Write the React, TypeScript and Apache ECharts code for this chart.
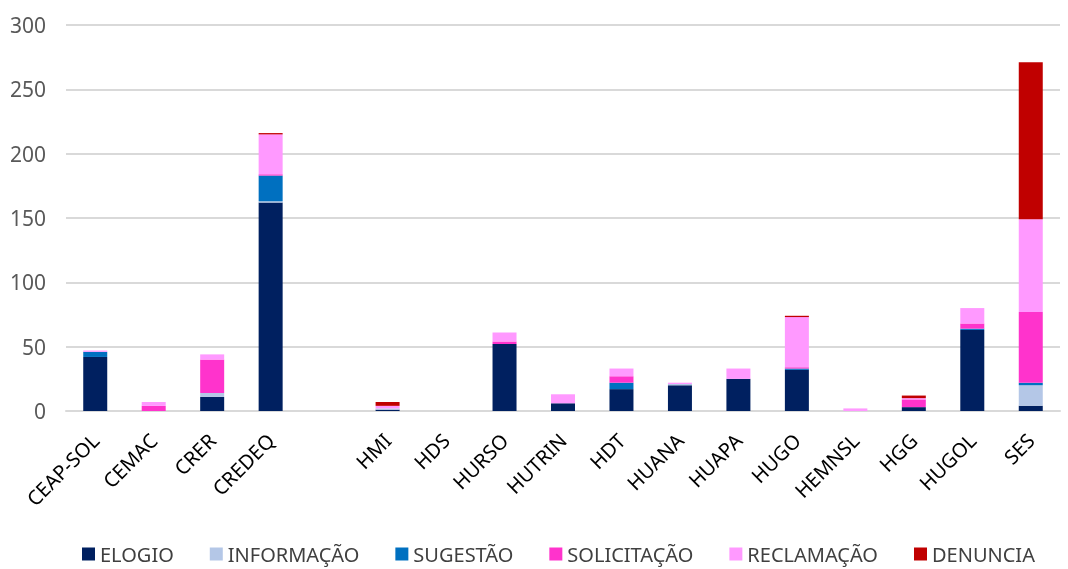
import React, { useEffect, useRef } from "react";
import * as echarts from "echarts";

const categories = ["CEAP-SOL", "CEMAC", "CRER", "CREDEQ", "", "HMI", "HDS", "HURSO", "HUTRIN", "HDT", "HUANA", "HUAPA", "HUGO", "HEMNSL", "HGG", "HUGOL", "SES"];
const seriesNames = ["ELOGIO", "INFORMAÇÃO", "SUGESTÃO", "SOLICITAÇÃO", "RECLAMAÇÃO", "DENUNCIA"];
const elogio = [42, 0, 11, 162, 0, 1, 0, 52, 6, 17, 20, 25, 32, 0, 3, 63, 4];
const informacao = [0, 0, 3, 1, 0, 1, 0, 0, 0, 0, 1, 0, 0, 0, 0, 0, 16];
const sugestao = [4, 0, 0, 20, 0, 0, 0, 0, 0, 5, 0, 0, 1, 0, 0, 1, 2];
const solicitacao = [0, 4, 26, 1, 0, 0, 0, 2, 0, 5, 0, 0, 1, 0, 6, 4, 55];
const reclamacao = [1, 3, 4, 31, 0, 2, 0, 7, 7, 6, 1, 8, 39, 2, 1, 12, 72];
const denuncia = [0, 0, 0, 1, 0, 3, 0, 0, 0, 0, 0, 0, 1, 0, 2, 0, 122];
const yTicks = { min: 0, max: 300, interval: 50 };
const colors = ["#002060", "#B4C7E7", "#0070C0", "#FF33CC", "#FF99FF", "#C00000"];

export default function App() {
  const ref = useRef<HTMLDivElement>(null);
  useEffect(() => {
    if (!ref.current) return;
    const chart = echarts.init(ref.current, null, { renderer: "svg" });
    const data = [elogio, informacao, sugestao, solicitacao, reclamacao, denuncia];
    chart.setOption({
      animation: false,
      color: colors,
      textStyle: { fontFamily: "Noto Sans" },
      grid: { left: 66, right: 8, top: 25, bottom: 158, containLabel: false },
      legend: {
        top: 539,
        left: 77,
        padding: [5, 5, 5, 5],
        itemWidth: 13,
        itemHeight: 13,
        itemGap: 36,
        icon: "rect",
        textStyle: { fontSize: 20, color: "#404040", fontFamily: "Noto Sans" },
        data: seriesNames,
      },
      xAxis: {
        type: "category",
        data: categories,
        axisTick: { show: false },
        axisLine: { lineStyle: { color: "#D9D9D9", width: 2 } },
        axisLabel: { rotate: 45, fontSize: 20, color: "#000000", interval: 0, margin: 26 },
      },
      yAxis: {
        type: "value",
        min: yTicks.min,
        max: yTicks.max,
        interval: yTicks.interval,
        axisLine: { show: false },
        axisTick: { show: false },
        splitLine: { lineStyle: { color: "#D9D9D9", width: 2 } },
        axisLabel: { fontSize: 21, color: "#595959", margin: 20 },
      },
      series: seriesNames.map((name, i) => ({
        name,
        type: "bar",
        stack: "total",
        barWidth: 24,
        data: data[i],
        itemStyle: { color: colors[i] },
      })),
    });
    return () => chart.dispose();
  }, []);
  return <div ref={ref} style={{ position: "fixed", left: 0, top: 0, width: 1068, height: 569 }} />;
}
